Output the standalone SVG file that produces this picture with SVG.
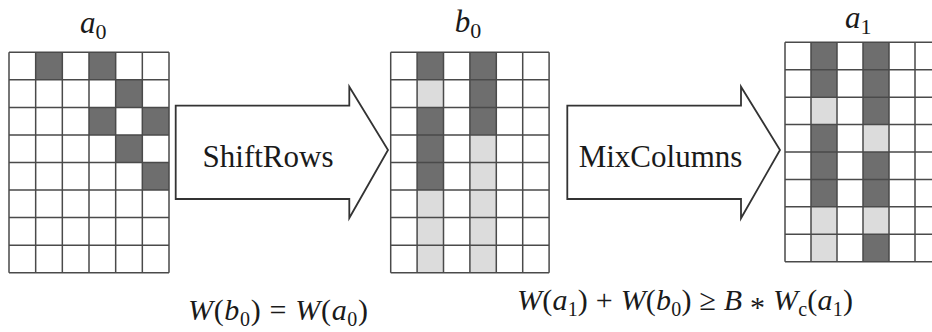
<svg xmlns="http://www.w3.org/2000/svg" width="932" height="332" viewBox="0 0 932 332">
<defs>
  <path id="gridA" d="M0 0V220.4M26.67 0V220.4M53.33 0V220.4M80 0V220.4M106.67 0V220.4M133.33 0V220.4M160 0V220.4M0 0H160M0 27.55H160M0 55.1H160M0 82.65H160M0 110.2H160M0 137.75H160M0 165.3H160M0 192.85H160M0 220.4H160"/>
</defs>
<rect x="0" y="0" width="932" height="332" fill="#ffffff"/>

<g id="a0" transform="translate(9,52.3)">
  <g fill="#6e6e6e">
    <rect x="26.67" y="0" width="26.67" height="27.55"/>
    <rect x="80" y="0" width="26.67" height="27.55"/>
    <rect x="106.67" y="27.55" width="26.67" height="27.55"/>
    <rect x="80" y="55.1" width="26.67" height="27.55"/>
    <rect x="133.33" y="55.1" width="26.67" height="27.55"/>
    <rect x="106.67" y="82.65" width="26.67" height="27.55"/>
    <rect x="133.33" y="110.2" width="26.67" height="27.55"/>
  </g>
  <use href="#gridA" fill="none" stroke="#4a4a4a" stroke-width="1.5"/>
  <text font-family="Liberation Serif" font-style="italic" font-size="31" fill="#1a1a1a" x="71" y="-19">a<tspan font-style="normal" font-size="22" dy="6">0</tspan></text>
</g>

<g id="b0" transform="translate(390.7,52.3)">
  <rect fill="#6e6e6e" x="26.4" y="0" width="26.4" height="27.55"/>
  <rect fill="#dcdcdc" x="26.4" y="27.55" width="26.4" height="27.55"/>
  <rect fill="#6e6e6e" x="26.4" y="55.1" width="26.4" height="82.65"/>
  <rect fill="#dcdcdc" x="26.4" y="137.75" width="26.4" height="82.65"/>
  <rect fill="#6e6e6e" x="79.2" y="0" width="26.4" height="82.65"/>
  <rect fill="#dcdcdc" x="79.2" y="82.65" width="26.4" height="137.75"/>
  <path fill="none" stroke="#4a4a4a" stroke-width="1.5" d="M0 0V220.4M26.4 0V220.4M52.8 0V220.4M79.2 0V220.4M105.6 0V220.4M132 0V220.4M158.4 0V220.4M0 0H158.4M0 27.55H158.4M0 55.1H158.4M0 82.65H158.4M0 110.2H158.4M0 137.75H158.4M0 165.3H158.4M0 192.85H158.4M0 220.4H158.4"/>
  <text font-family="Liberation Serif" font-style="italic" font-size="31" fill="#1a1a1a" x="64" y="-20">b<tspan font-style="normal" font-size="22" dy="6">0</tspan></text>
</g>

<g id="a1" transform="translate(785,42.3)">
  <rect fill="#6e6e6e" x="26" y="0" width="26" height="54.85"/>
  <rect fill="#dcdcdc" x="26" y="54.85" width="26" height="27.42"/>
  <rect fill="#6e6e6e" x="26" y="82.27" width="26" height="82.28"/>
  <rect fill="#dcdcdc" x="26" y="164.55" width="26" height="54.85"/>
  <rect fill="#6e6e6e" x="78" y="0" width="26" height="82.27"/>
  <rect fill="#dcdcdc" x="78" y="82.27" width="26" height="27.43"/>
  <rect fill="#6e6e6e" x="78" y="109.7" width="26" height="54.85"/>
  <rect fill="#dcdcdc" x="78" y="164.55" width="26" height="27.42"/>
  <rect fill="#6e6e6e" x="78" y="191.97" width="26" height="27.43"/>
  <path fill="none" stroke="#4a4a4a" stroke-width="1.5" d="M0 0V219.4M26 0V219.4M52 0V219.4M78 0V219.4M104 0V219.4M130 0V219.4M156 0V219.4M0 0H156M0 27.42H156M0 54.85H156M0 82.27H156M0 109.7H156M0 137.12H156M0 164.55H156M0 191.97H156M0 219.4H156"/>
  <text font-family="Liberation Serif" font-style="italic" font-size="31" fill="#1a1a1a" x="60" y="-14">a<tspan font-style="normal" font-size="22" dy="6">1</tspan></text>
</g>

<g id="connectors" fill="#ffffff" stroke="#333333" stroke-width="1.8">
  <g id="shiftrows">
    <path d="M175.7 105.7H349.3V86.7L388 150L349.3 218V199H175.7Z"/>
    <text font-family="Liberation Serif" font-size="31" fill="#1a1a1a" stroke="none" x="268" y="167" text-anchor="middle">ShiftRows</text>
  </g>
  <g id="mixcolumns">
    <path d="M567.3 105.7H741V86.7L780 150L741 218.3V199H567.3Z"/>
    <text font-family="Liberation Serif" font-size="31" fill="#1a1a1a" stroke="none" x="660.5" y="167" text-anchor="middle">MixColumns</text>
  </g>
</g>

<g id="eq1">
  <text font-family="Liberation Serif" font-size="30" fill="#1a1a1a" x="188" y="320" textLength="180" lengthAdjust="spacing"><tspan font-style="italic">W</tspan>(<tspan font-style="italic">b</tspan><tspan font-size="20" dy="6">0</tspan><tspan dy="-6">) = </tspan><tspan font-style="italic">W</tspan>(<tspan font-style="italic">a</tspan><tspan font-size="20" dy="6">0</tspan><tspan dy="-6">)</tspan></text>
</g>
<g id="eq2">
  <text font-family="Liberation Serif" font-size="30" fill="#1a1a1a" x="517" y="310" textLength="336" lengthAdjust="spacing"><tspan font-style="italic">W</tspan>(<tspan font-style="italic">a</tspan><tspan font-size="20" dy="6">1</tspan><tspan dy="-6">) + </tspan><tspan font-style="italic">W</tspan>(<tspan font-style="italic">b</tspan><tspan font-size="20" dy="6">0</tspan><tspan dy="-6">) ≥ </tspan><tspan font-style="italic">B</tspan> <tspan dy="7">*</tspan><tspan dy="-7"> </tspan><tspan font-style="italic">W</tspan><tspan font-size="20" dy="6">c</tspan><tspan dy="-6">(</tspan><tspan font-style="italic">a</tspan><tspan font-size="20" dy="6">1</tspan><tspan dy="-6">)</tspan></text>
</g>
</svg>
